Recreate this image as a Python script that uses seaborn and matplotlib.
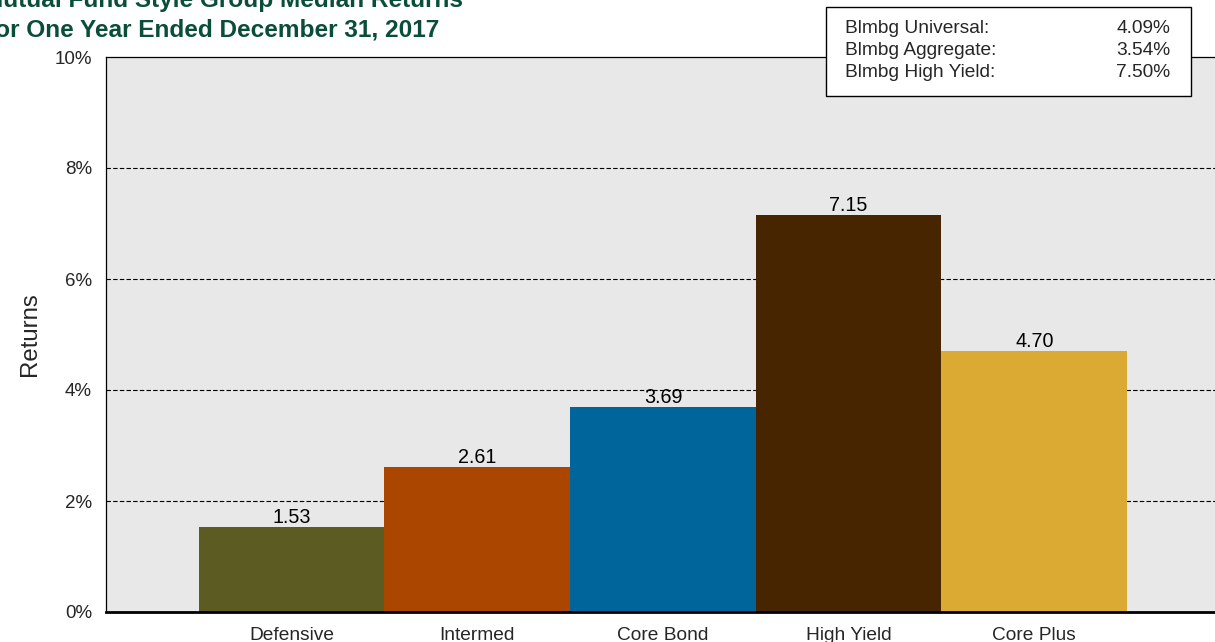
import matplotlib
matplotlib.use("Agg")
import matplotlib.pyplot as plt
import seaborn as sns
import pandas as pd
from matplotlib.patches import Rectangle

categories = ["Defensive", "Intermed", "Core Bond", "High Yield", "Core Plus"]
returns = [1.53, 2.61, 3.69, 7.15, 4.70]
bar_colors = ["#5c5b21", "#aa4600", "#00659b", "#472500", "#dbaa32"]
bench_names = ["Blmbg Universal:", "Blmbg Aggregate:", "Blmbg High Yield:"]
bench_values = ["4.09%", "3.54%", "7.50%"]
yticks = [0, 2, 4, 6, 8, 10]
title_lines = ["Mutual Fund Style Group Median Returns", "for One Year Ended December 31, 2017"]

sns.set_theme(style="white")
plt.rcParams["font.family"] = ["Liberation Sans", "DejaVu Sans"]

W, H = 1215, 642
fig = plt.figure(figsize=(W / 100, H / 100), dpi=100)
ax = fig.add_axes([106 / W, 1 - 612 / H, (1220 - 106) / W, (612 - 57) / H])
ax.set_facecolor("#e8e8e8")

df = pd.DataFrame({"cat": categories, "ret": returns})
sns.barplot(data=df, x="cat", y="ret", hue="cat", palette=bar_colors,
            width=1.0, legend=False, ax=ax, linewidth=0, saturation=1)

for c in ax.containers:
    ax.bar_label(c, fmt="%.2f", padding=0, fontsize=14.2, color="black")

ax.set_xlim(-1, 5)
ax.set_ylim(0, 10)
ax.set_yticks(yticks)
ax.set_yticklabels([f"{t}%" for t in yticks], fontsize=13.5)
ax.tick_params(axis="y", length=0, pad=10)
ax.tick_params(axis="x", length=0, pad=11, labelsize=13.8)
for t in [2, 4, 6, 8]:
    ax.axhline(t, color="black", lw=0.8, ls=(0, (4, 2)), zorder=0.5)
ax.set_axisbelow(True)
ax.set_xlabel("")
ax.set_ylabel("Returns", fontsize=17.3, labelpad=10)
for s in ["left", "top", "right"]:
    ax.spines[s].set_color("black")
    ax.spines[s].set_linewidth(0.9)
ax.spines["bottom"].set_color("black")
ax.spines["bottom"].set_linewidth(2)

# title (cropped in reference)
fig.text(463 / W, 1 - 7 / H, title_lines[0], fontsize=17.6, fontweight="bold",
         color="#0b4d3b", ha="right", va="baseline")
fig.text(439 / W, 1 - 37 / H, title_lines[1], fontsize=17.6, fontweight="bold",
         color="#0b4d3b", ha="right", va="baseline")

# benchmark box
fig.patches.append(Rectangle((826 / W, 1 - 96 / H), (1191 - 826) / W, (96 - 7) / H,
                             transform=fig.transFigure, facecolor="white",
                             edgecolor="black", lw=1.0, zorder=5))
for i, (n, v) in enumerate(zip(bench_names, bench_values)):
    y = 1 - (28.5 + 22 * i) / H
    fig.text(845 / W, y, n, fontsize=13.8, ha="left", va="center", zorder=6)
    fig.text(1170 / W, y, v, fontsize=13.8, ha="right", va="center", zorder=6)

fig.savefig("out.png", dpi=100)
